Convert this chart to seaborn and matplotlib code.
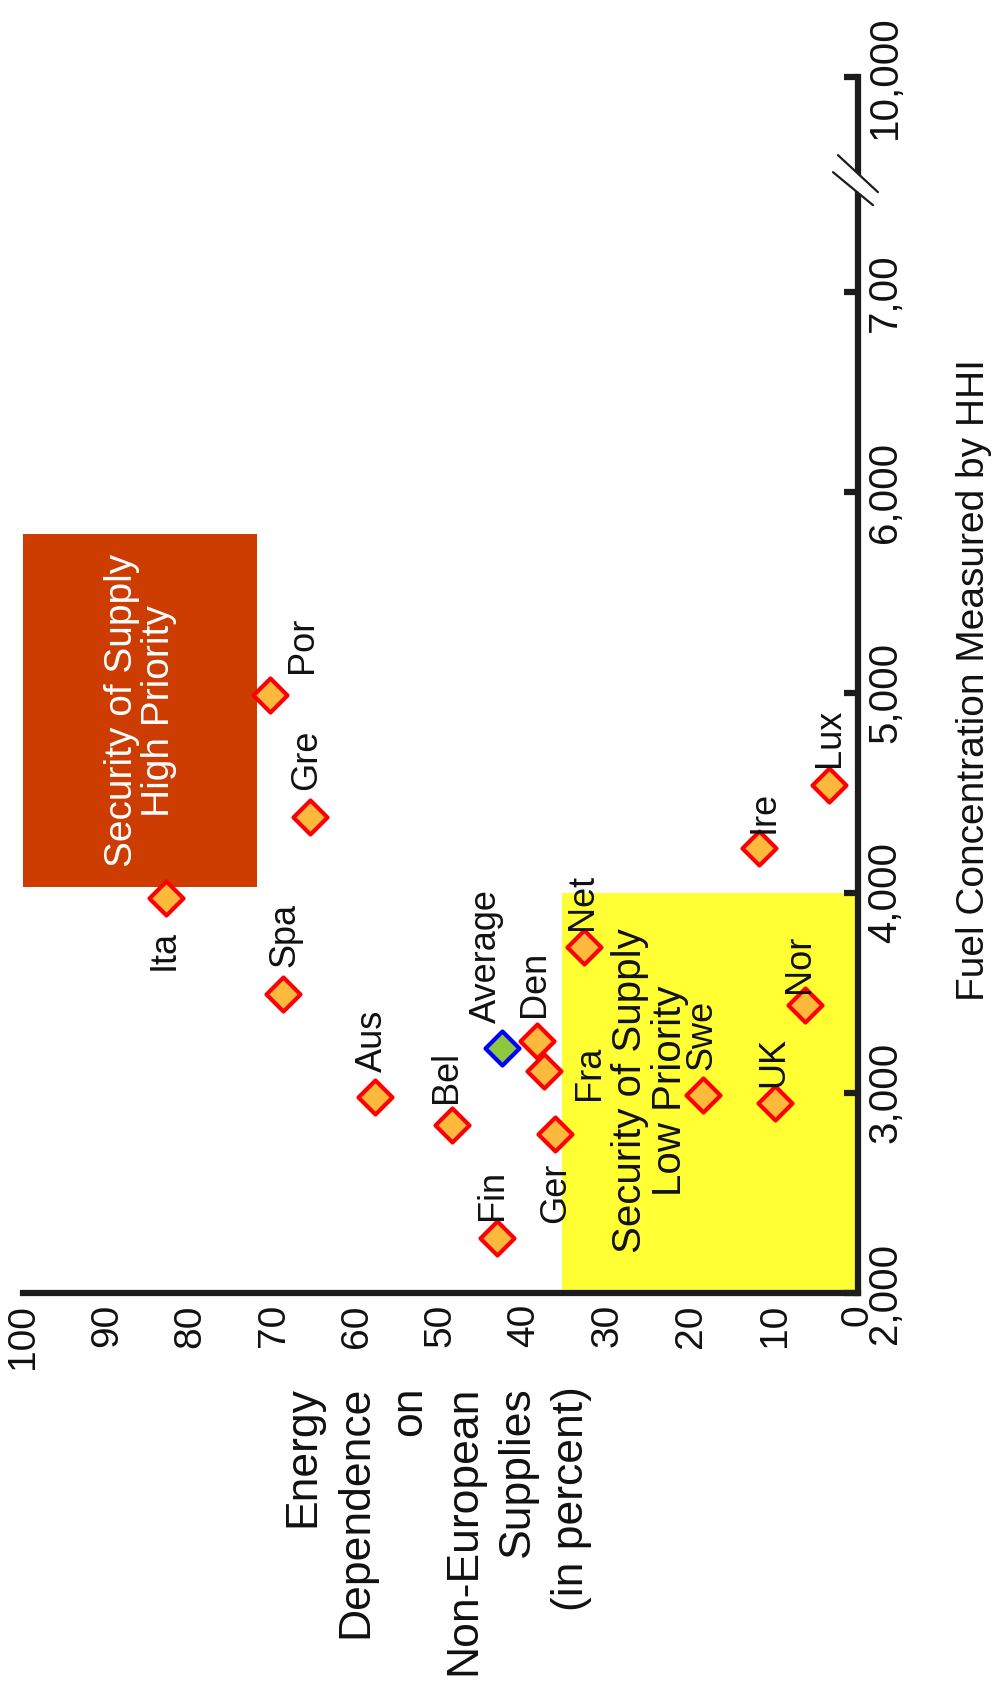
import matplotlib
matplotlib.use('Agg')  # no display
import matplotlib.pyplot as plt
from matplotlib.patches import Rectangle, Polygon
from matplotlib.lines import Line2D
from matplotlib.transforms import IdentityTransform
import pandas as pd
import seaborn as sns

countries = ['Ita', 'Spa', 'Aus', 'Bel', 'Den', 'Fra', 'Ger', 'Fin', 'Net',
             'Por', 'Gre', 'Swe', 'UK', 'Nor', 'Ire', 'Lux']
dependence = [82.9, 68.9, 57.9, 48.6, 38.4, 37.6, 36.3, 43.3, 32.8,
              70.5, 65.7, 18.6, 9.9, 6.3, 11.9, 3.5]
hhi = [3975, 3495, 2980, 2840, 3260, 3110, 2795, 2275, 3730,
       4990, 4380, 2990, 2950, 3440, 4225, 4540]
avg_label = ['Average']
avg_dependence = [42.6]
avg_hhi = [3225]

ed_ticks = [100, 90, 80, 70, 60, 50, 40, 30, 20, 10, 0]
ed_labels = ['100', '90', '80', '70', '60', '50', '40', '30', '20', '10', '0']
hhi_ticks = [2000, 3000, 4000, 5000, 6000, 7000, 8075]
hhi_labels = ['2,000', '3,000', '4,000', '5,000', '6,000', '7,00', '10,000']
hhi_break = 7560

high_box_ed = [72, 100]
high_box_hhi = [4030, 5790]
low_box_ed = [0, 35.5]
low_box_hhi = [2000, 4000]

# label placement: offset in pixels (right, up) and alignment
label_pos = {
    'Ita': (-2, -32, 'center', 'top'),
    'Spa': (2, 27, 'center', 'bottom'),
    'Aus': (-2, 25, 'center', 'bottom'),
    'Bel': (-6, 22, 'center', 'bottom'),
    'Den': (-3, 24, 'center', 'bottom'),
    'Fra': (28, -2, 'left', 'center'),
    'Ger': (1, -29, 'center', 'top'),
    'Fin': (-4, 18, 'center', 'bottom'),
    'Net': (-2, 17, 'center', 'bottom'),
    'Por': (33, 22, 'center', 'bottom'),
    'Gre': (-3, 27, 'center', 'bottom'),
    'Swe': (-1, 25, 'center', 'bottom'),
    'UK': (-2, 16, 'center', 'bottom'),
    'Nor': (-6, 12, 'center', 'bottom'),
    'Ire': (5, 15, 'center', 'bottom'),
    'Lux': (1, 18, 'center', 'bottom'),
    'Average': (-16, 25, 'center', 'bottom'),
}

sns.set_style('white')
plt.rcParams['font.family'] = ['Liberation Sans', 'DejaVu Sans']

AXC = '#1c1c1c'
PX = 0.72  # points per pixel at dpi 100

fig = plt.figure(figsize=(9.95, 16.98), dpi=100)
ax = fig.add_axes([0.0235, 0.2385, 0.8388, 0.7161])

# priority boxes
ax.add_patch(Rectangle((low_box_ed[0], low_box_hhi[0]), low_box_ed[1] - low_box_ed[0],
                       low_box_hhi[1] - low_box_hhi[0], facecolor='#FFFF33', lw=0, zorder=0))
ax.add_patch(Rectangle((high_box_ed[0], high_box_hhi[0]), high_box_ed[1] - high_box_ed[0],
                       high_box_hhi[1] - high_box_hhi[0], facecolor='#CD3C00', lw=0, zorder=0))

ax.text(sum(high_box_ed) / 2, sum(high_box_hhi) / 2, 'Security of Supply\nHigh Priority',
        rotation=90, ha='center', va='center', color='white', fontsize=28, linespacing=1.05, zorder=1)
ax.text(24.9, 3010, 'Security of Supply\nLow Priority',
        rotation=90, ha='center', va='center', color='#111111', fontsize=29, linespacing=1.05, zorder=1)

df = pd.DataFrame({'country': countries, 'dependence': dependence, 'hhi': hhi})
sns.scatterplot(data=df, x='dependence', y='hhi', marker='D', s=300, color='#FDB93C',
                edgecolor='#FF0000', linewidth=3, ax=ax, zorder=3, clip_on=False)
sns.scatterplot(x=avg_dependence, y=avg_hhi, marker='D', s=300, color='#8DC63F',
                edgecolor='#0000FF', linewidth=3, ax=ax, zorder=4, clip_on=False)

for name, x, y in zip(countries + avg_label, dependence + avg_dependence, hhi + avg_hhi):
    dx, dy, ha, va = label_pos[name]
    ax.annotate(name, (x, y), xytext=(dx * PX, dy * PX), textcoords='offset points',
                rotation=90, ha=ha, va=va, fontsize=26, color='#111111', zorder=5)

ax.set_xlim(100, 0)
ax.set_ylim(2000, 8075)
ax.set_xlabel('')
ax.set_ylabel('')

sns.despine(ax=ax, left=True, top=True, right=False, bottom=False)
for side in ['bottom', 'right']:
    ax.spines[side].set_linewidth(4.5)
    ax.spines[side].set_color(AXC)
    ax.spines[side].set_capstyle('projecting')

ax.yaxis.tick_right()
ax.set_xticks(ed_ticks)
ax.set_xticklabels(ed_labels, rotation=90, ha='center', va='top', fontsize=28)
ax.set_yticks(hhi_ticks)
ax.set_yticklabels(hhi_labels, rotation=90, ha='left', va='center', fontsize=29)
ax.tick_params(axis='both', direction='in', length=10, width=4.5, color=AXC, labelcolor='#111111')
ax.tick_params(axis='x', pad=8)
ax.tick_params(axis='y', pad=6)

# axis break marks on the HHI axis
cx, cy = ax.transData.transform((0, hhi_break))
gap = [(cx - 20, cy + 25), (cx + 20, cy - 12), (cx + 15, cy - 25), (cx - 25, cy + 8)]
fig.add_artist(Polygon(gap, closed=True, facecolor='white', edgecolor='none',
                       transform=IdentityTransform(), zorder=10))
for (x0, y0), (x1, y1) in [(gap[0], gap[1]), (gap[3], gap[2])]:
    fig.add_artist(Line2D([x0, x1], [y0, y1], color=AXC, lw=1.6,
                          transform=IdentityTransform(), zorder=11))

# axis titles
fig.text(437 / 995, 1 - 1386 / 1698,
         'Energy\nDependence\non\nNon-European\nSupplies\n(in percent)',
         rotation=90, ha='center', va='top', multialignment='right',
         fontsize=32, linespacing=1.4, color='#111111')
fig.text(974 / 995, 1 - 680 / 1698, 'Fuel Concentration Measured by HHI',
         rotation=90, ha='center', va='center', fontsize=28, color='#111111')

plt.savefig('out.png', dpi=100)
plt.close()
